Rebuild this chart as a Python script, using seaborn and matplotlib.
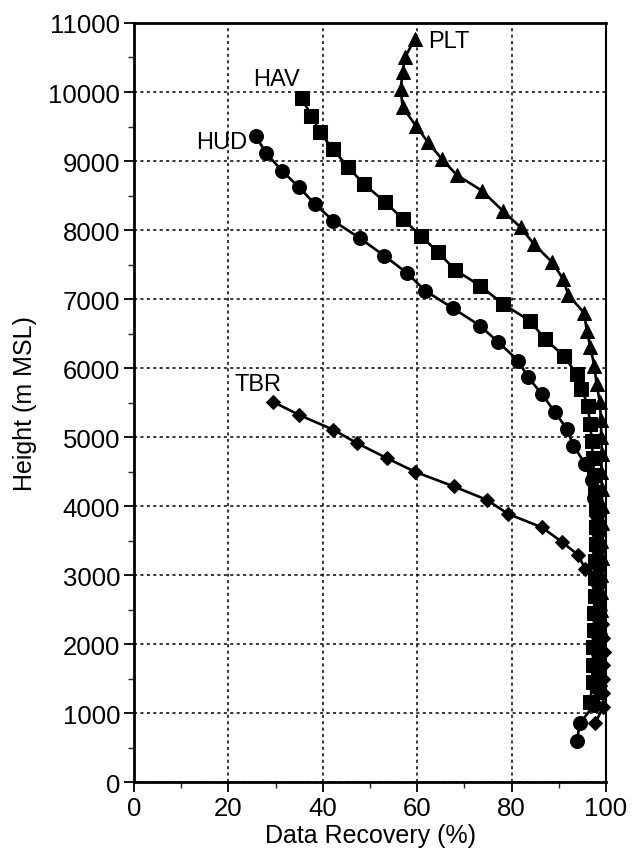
import matplotlib
matplotlib.use("Agg")
import matplotlib.pyplot as plt
import seaborn as sns
import pandas as pd
from matplotlib.ticker import MultipleLocator

# ---- data (height m MSL, data recovery %) ----
plt_height = [10770, 10500, 10285, 10043, 9780, 9512, 9270, 9029, 8797, 8570,
              8280, 8039, 7797, 7532, 7290, 7060, 6795, 6541, 6300, 6033,
              5768, 5503, 5250, 5000, 4750, 4500, 4250, 4000, 3750, 3500,
              3250, 3000, 2750, 2500, 2250, 2000, 1750, 1500, 1300]
plt_recovery = [59.5, 57.4, 56.9, 56.5, 56.9, 59.7, 62.3, 65.2, 68.4, 73.7,
                78.1, 81.9, 84.7, 88.6, 90.9, 92.0, 95.4, 95.9, 96.7, 97.5,
                98.0, 98.7, 98.9, 99.0, 99.1, 99.0, 99.1, 99.2, 99.1, 99.0,
                99.1, 99.0, 98.9, 98.9, 98.8, 98.9, 98.8, 98.7, 98.6]

hav_height = [9908, 9657, 9415, 9174, 8908, 8667, 8411, 8164, 7917, 7688,
              7423, 7193, 6928, 6686, 6420, 6178, 5913, 5696, 5454, 5188,
              4946, 4700, 4450, 4200, 3950, 3700, 3450, 3200, 2950, 2700,
              2450, 2200, 1950, 1700, 1450, 1159]
hav_recovery = [35.5, 37.6, 39.4, 42.1, 45.4, 48.7, 53.1, 56.9, 60.7, 64.3,
                68.0, 73.3, 78.2, 83.8, 87.1, 91.0, 93.8, 94.8, 96.2, 96.6,
                97.0, 97.2, 97.5, 97.6, 97.8, 97.9, 97.8, 97.7, 97.6, 97.6,
                97.5, 97.4, 97.3, 97.2, 97.2, 96.6]

hud_height = [9357, 9116, 8860, 8618, 8377, 8135, 7879, 7628, 7379, 7120,
              6870, 6613, 6372, 6106, 5865, 5623, 5358, 5116, 4874, 4609,
              4370, 4120, 3870, 3620, 3370, 3120, 2870, 2620, 2370, 2120,
              1870, 1620, 1370, 1120, 855, 600]
hud_recovery = [25.8, 28.0, 31.3, 35.0, 38.3, 42.2, 47.9, 53.0, 57.8, 61.7,
                67.5, 73.3, 77.2, 81.4, 83.5, 86.4, 89.2, 91.7, 93.1, 95.6,
                97.0, 97.5, 98.0, 98.2, 98.3, 98.5, 98.4, 98.6, 98.5, 98.3,
                98.2, 98.0, 97.8, 97.5, 94.5, 93.8]

tbr_height = [5512, 5319, 5106, 4913, 4696, 4497, 4285, 4091, 3884, 3691,
              3483, 3290, 3087, 2890, 2690, 2490, 2290, 2090, 1890, 1690,
              1490, 1290, 1083, 855]
tbr_recovery = [29.4, 35.0, 42.2, 47.2, 53.5, 59.5, 67.7, 74.7, 79.3, 86.4,
                90.6, 94.1, 95.6, 98.0, 98.5, 98.8, 99.2, 99.4, 99.5, 99.3,
                99.4, 99.3, 99.4, 97.7]

stations = ["PLT", "HAV", "HUD", "TBR"]
heights = [plt_height, hav_height, hud_height, tbr_height]
recoveries = [plt_recovery, hav_recovery, hud_recovery, tbr_recovery]

x_ticks = [0, 20, 40, 60, 80, 100]
y_ticks = [0, 1000, 2000, 3000, 4000, 5000, 6000, 7000, 8000, 9000, 10000, 11000]

# ---- style ----
sns.set_theme(style="white")
plt.rcParams["font.family"] = ["Liberation Sans", "DejaVu Sans"]

fig = plt.figure(figsize=(6.39, 8.54), dpi=100)
ax = fig.add_axes([0.2097, 0.0831, 0.7387, 0.8888])

markers = {"PLT": ("^", 10.0), "HAV": ("s", 9.5), "HUD": ("o", 10.0), "TBR": ("D", 7.2)}

for name, h, r in zip(stations, heights, recoveries):
    df = pd.DataFrame({"height": h, "recovery": r})
    m, ms = markers[name]
    sns.lineplot(data=df, x="recovery", y="height", sort=False, estimator=None,
                 ax=ax, color="black", linewidth=1.9, marker=m, markersize=ms,
                 markeredgecolor="black", markerfacecolor="black",
                 clip_on=False, zorder=3)

# station labels
label_pos = {"PLT": (62.3, 10740, "left"), "HAV": (30.2, 10190, "center"),
             "HUD": (24.0, 9270, "right"), "TBR": (31.3, 5770, "right")}
for name, (lx, ly, ha) in label_pos.items():
    ax.text(lx, ly, name, ha=ha, va="center", fontsize=17, color="black")

ax.set_xlim(0, 100)
ax.set_ylim(0, 11000)
ax.set_xticks(x_ticks)
ax.set_yticks(y_ticks)
ax.xaxis.set_minor_locator(MultipleLocator(10))
ax.yaxis.set_minor_locator(MultipleLocator(500))
ax.tick_params(axis="both", which="major", direction="out", length=7, width=1.3,
               labelsize=18.5, colors="black", pad=3,
               bottom=True, left=True)
ax.tick_params(axis="both", which="minor", direction="out", length=4, width=1.0,
               bottom=True, left=True)

ax.grid(True, which="major", color="black", linestyle=(0, (2, 2.2)), linewidth=1.1)
ax.set_axisbelow(True)

for s in ["left", "bottom", "top"]:
    ax.spines[s].set_linewidth(2.0)
    ax.spines[s].set_color("black")
ax.spines["right"].set_linewidth(1.5)
ax.spines["right"].set_color("black")

ax.set_xlabel("Data Recovery (%)", fontsize=18, color="black", labelpad=2)
ax.set_ylabel("Height (m MSL)", fontsize=18, color="black", labelpad=8)

fig.savefig("out.png", dpi=100, facecolor="white")
